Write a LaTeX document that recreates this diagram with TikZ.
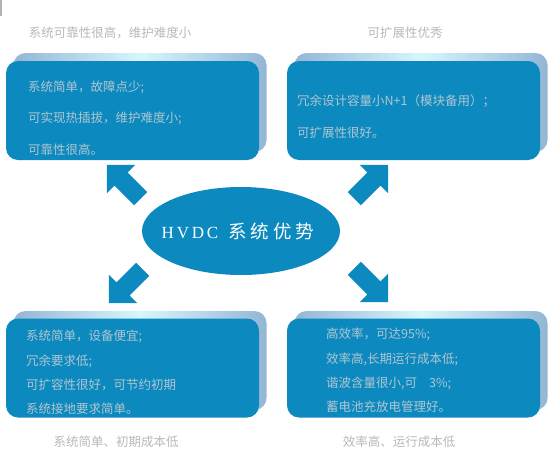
\documentclass[tikz,border=0pt]{standalone}
\usepackage{fontspec}
\setmainfont{Noto Sans CJK SC}
\newfontfamily\latinserif{Liberation Serif}
\usetikzlibrary{shapes.geometric, shapes.arrows}
\definecolor{hvdcblue}{HTML}{0C89BE}
\definecolor{backsteel}{HTML}{93B6D4}
\definecolor{backglow}{HTML}{D8F6FF}
\definecolor{lighttext}{HTML}{B0C6D2}
\definecolor{titlegray}{HTML}{B8B8B8}

\begin{document}
\begin{tikzpicture}[x=1pt, y=-1pt,
  frontbox/.style={rectangle, fill=hvdcblue, rounded corners=12pt,
                   minimum width=253pt, minimum height=99pt, inner sep=0pt},
  backbox/.style={rectangle, rounded corners=12pt, left color=backsteel,
                  right color=backsteel, middle color=backglow,
                  minimum width=253pt, minimum height=99pt, inner sep=0pt},
  boxtext/.style={anchor=north west, inner sep=0pt, align=left,
                  text=lighttext, font=\fontsize{12.5}{31.5}\selectfont},
  boxtextdense/.style={boxtext, font=\fontsize{12.5}{24.3}\selectfont},
  heading/.style={text=titlegray, inner sep=0pt, font=\fontsize{12.5}{15}\selectfont},
  blockarrow/.style={single arrow, fill=hvdcblue, draw=none, inner sep=9pt,
                     minimum height=48pt, single arrow tip angle=90,
                     single arrow head extend=11pt},
  hub/.style={ellipse, fill=hvdcblue, minimum width=198pt, minimum height=88pt,
              inner sep=0pt}
]
\useasboundingbox (0,0) rectangle (554,458);
\fill[gray!60] (0,0) rectangle (1.5,16);
% Boxes
\node[backbox]  (reliabback) at (140,102.5) {};
\node[frontbox] (reliab)     at (132.5,110.5) {};
\node[backbox]  (expandback) at (421,102.5) {};
\node[frontbox] (expand)     at (413.5,110.5) {};
\node[backbox]  (costback)   at (140,360.5) {};
\node[frontbox] (cost)       at (132.5,368) {};
\node[backbox]  (effback)    at (421,360.5) {};
\node[frontbox] (eff)        at (413.5,368) {};
% Texts
\node[boxtext] (reliabtext) at (28,80.5) {系统简单，故障点少;\\可实现热插拔，维护难度小;\\可靠性很高。};
\node[boxtext] (expandtext) at (297,95) {冗余设计容量小N+1（模块备用）；\\可扩展性很好。};
\node[boxtextdense] (costtext) at (26,330) {系统简单，设备便宜;\\冗余要求低;\\可扩容性很好，可节约初期\\系统接地要求简单。};
\node[boxtextdense] (efftext) at (326,328) {高效率，可达95\%;\\效率高,长期运行成本低;\\谐波含量很小,可\hspace{12pt}3\%;\\蓄电池充放电管理好。};
% Headings
\node[heading] (reliabhead) at (110,33) {系统可靠性很高，维护难度小};
\node[heading] (expandhead) at (405,33) {可扩展性优秀};
\node[heading] (costhead)   at (116,442) {系统简单、初期成本低};
\node[heading] (effhead)    at (399,442) {效率高、运行成本低};
% Centre and arrows
\node[hub] (core) at (241,231) {};
\node[text=white, inner sep=0pt] (coretext) at ([xshift=-3pt]core.center) {{\fontsize{17}{20}\selectfont\latinserif H\,V\,D\,C}\hspace{10pt}{\fontsize{18.5}{20}\selectfont 系\hspace{4pt}统\hspace{4pt}优\hspace{4pt}势}};
\node[blockarrow, rotate=135] (toreliab) at (127,185) {};
\node[blockarrow, rotate=45]  (toexpand) at (368,185) {};
\node[blockarrow, rotate=225] (tocost)   at (129,283) {};
\node[blockarrow, rotate=-45] (toeff)    at (368,282) {};
\end{tikzpicture}
\end{document}
